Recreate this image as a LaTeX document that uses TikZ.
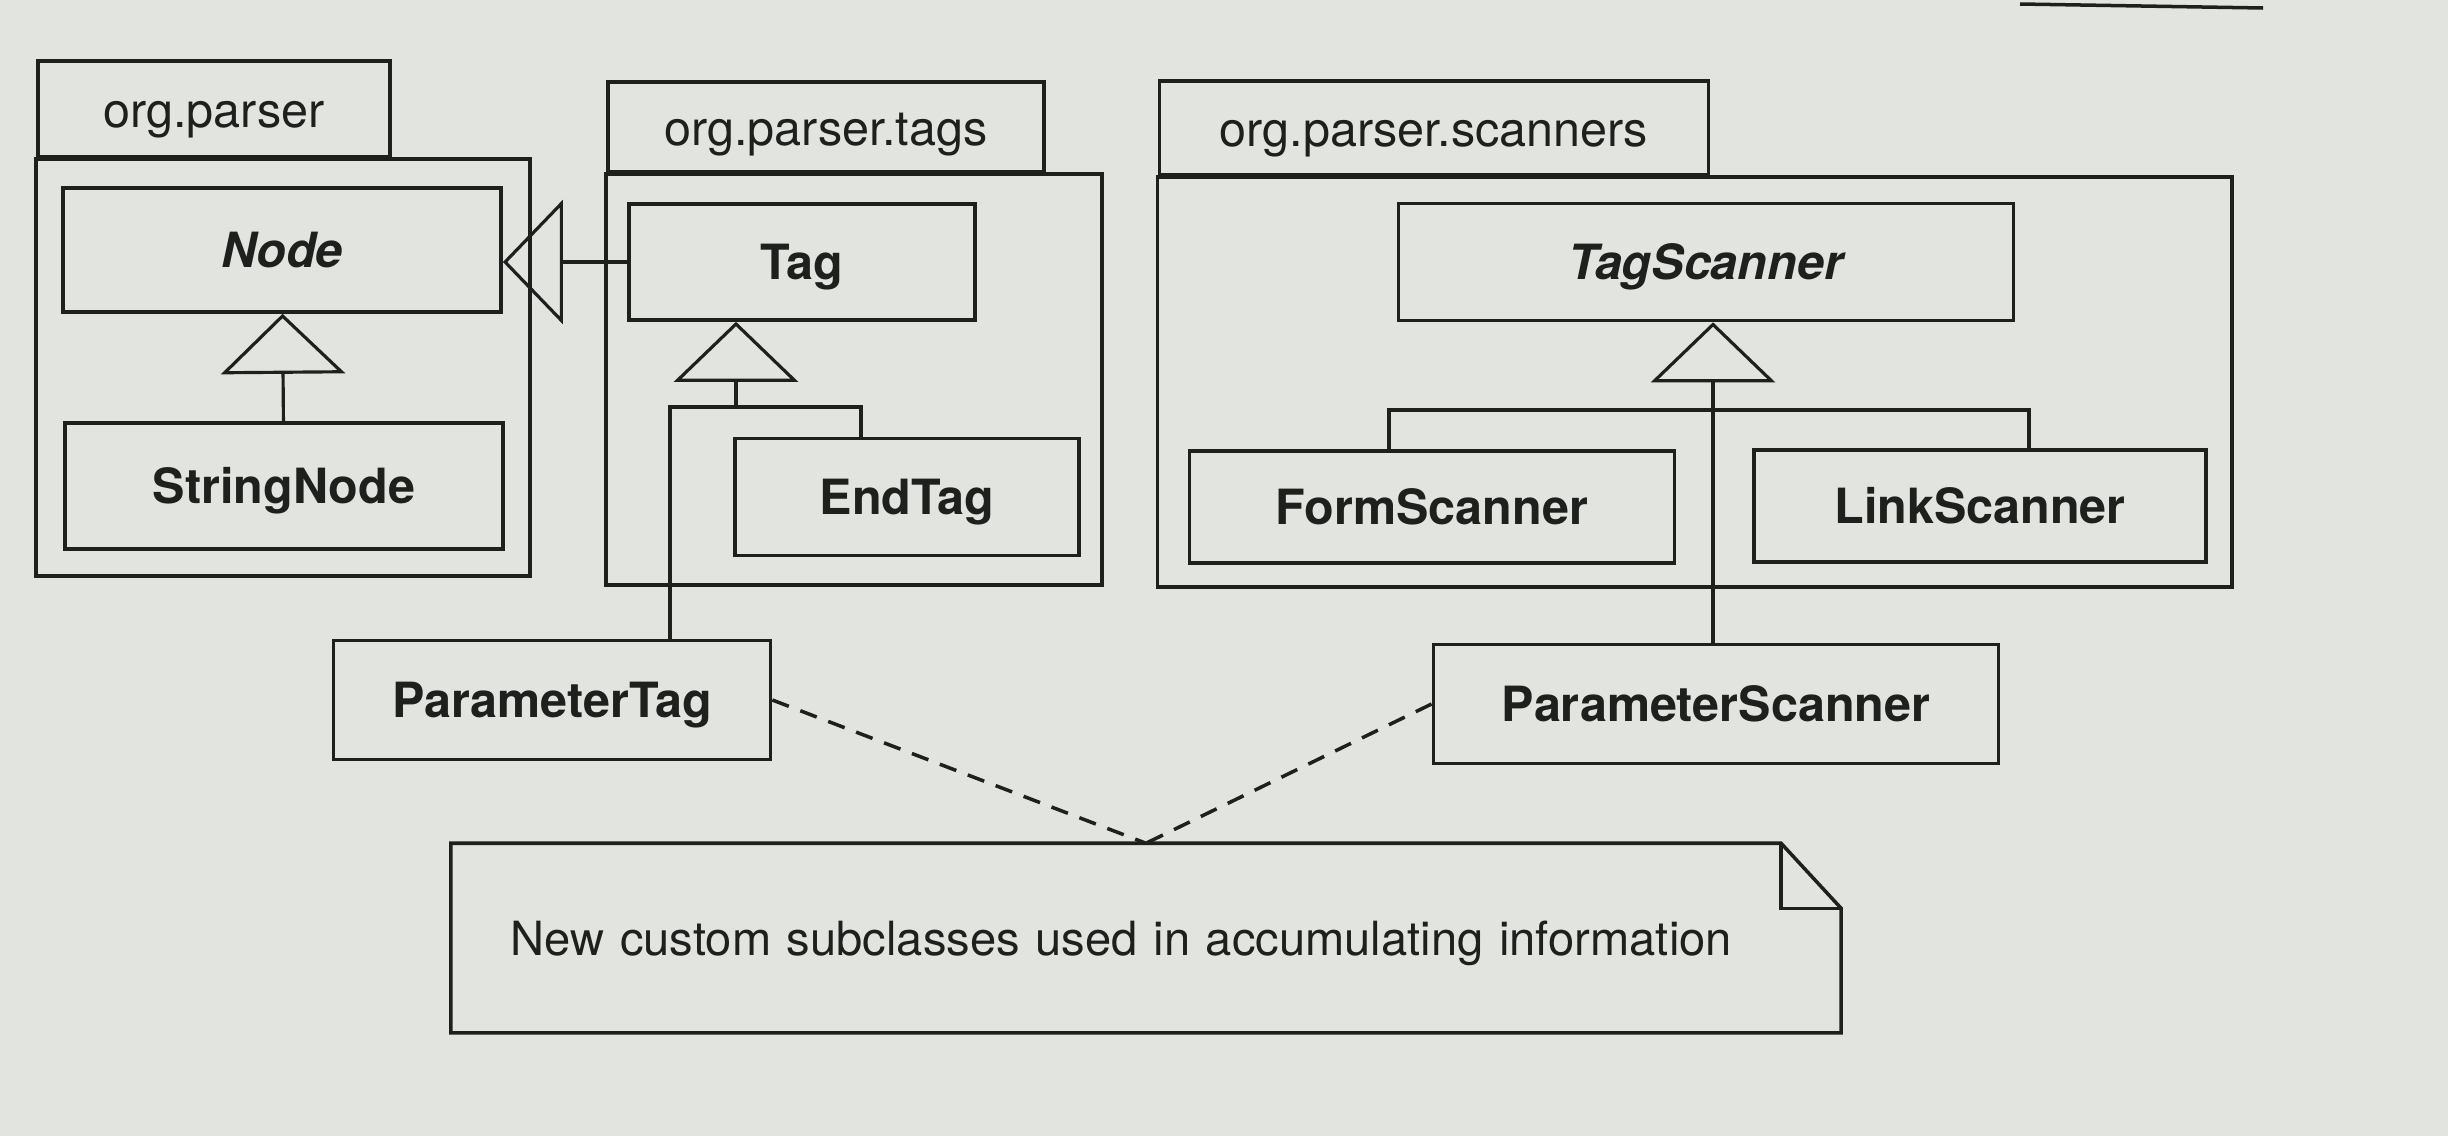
\documentclass[tikz,border=0pt]{standalone}
\usepackage{fontspec}
\setmainfont{TeX Gyre Heros}
\usetikzlibrary{arrows.meta,positioning}
\definecolor{paper}{RGB}{226,228,224}
\definecolor{ink}{RGB}{30,32,30}

\begin{document}
\begin{tikzpicture}[x=0.01cm,y=-0.01cm,
  every node/.style={font=\fontsize{13.8}{16}\selectfont,text=ink},
  cls/.style={draw=ink,line width=1pt,inner sep=0pt,text height=0.35cm,text depth=0cm,font=\fontsize{13.8}{16}\selectfont\bfseries},
  abs/.style={cls,font=\fontsize{13.8}{16}\selectfont\bfseries\itshape},
  tab/.style={draw=ink,line width=1pt,inner sep=0pt,text height=0.45cm,text depth=0.09cm},
  link/.style={draw=ink,line width=0.9pt},
  gen/.style={link,-{Triangle[open,length=6mm,width=12.4mm]}},
  dep/.style={draw=ink,line width=1pt,dash pattern=on 5pt off 3.5pt}]
\path[use as bounding box,fill=paper] (0,0) rectangle (2448,1136);
\draw[ink,line width=0.035cm] (2020,4) -- (2263,8);
\node[tab,minimum width=3.52cm,minimum height=0.96cm] (ptab) at (214,109) {org.parser};
\draw[link,line width=1pt] (ptab.south west) rectangle (530,576);
\node[tab,minimum width=4.36cm,minimum height=0.90cm] (ttab) at (826,127) {org.parser.tags};
\draw[link,line width=1pt] (ttab.south west) rectangle (1102,585);
\node[tab,minimum width=5.49cm,minimum height=0.94cm] (stab) at (1434,128) {org.parser.scanners};
\draw[link,line width=1pt] (stab.south west) rectangle (2232,587);
\node[abs,minimum width=4.38cm,minimum height=1.24cm] (nd) at (282,250) {Node};
\node[cls,minimum width=4.38cm,minimum height=1.26cm] (sn) at (284,486) {StringNode};
\node[cls,minimum width=3.46cm,minimum height=1.16cm] (tag) at (802,262) {Tag};
\node[cls,minimum width=3.44cm,minimum height=1.17cm] (etag) at (907,497) {EndTag};
\node[cls,minimum width=4.37cm,minimum height=1.19cm] (ptag) at (552,700) {ParameterTag};
\node[abs,minimum width=6.15cm,minimum height=1.17cm] (tscan) at (1706,262) {TagScanner};
\node[cls,minimum width=4.85cm,minimum height=1.12cm] (fscan) at (1432,507) {FormScanner};
\node[cls,minimum width=4.52cm,minimum height=1.12cm] (lscan) at (1980,506) {LinkScanner};
\node[cls,minimum width=5.65cm,minimum height=1.19cm] (pscan) at (1716,704) {ParameterScanner};
\node[font=\fontsize{13.4}{16}\selectfont,minimum width=13.88cm,minimum height=1.88cm,text width=12.7cm,align=left,inner xsep=0.59cm,inner ysep=0pt,text height=0.35cm,text depth=0cm] (note) at (1146,938) {New custom subclasses used in accumulating information};
\coordinate (tj) at (736,407);
\coordinate (tl) at (670,407);
\coordinate (tr) at (861,407);
\coordinate (sj) at (1713,410);
\coordinate (sl) at (1389,410);
\coordinate (sr) at (2029,410);
\draw[gen] (sn) -- (nd);
\draw[gen] (tag.west) -- (tag.west -| nd.east);
\draw[gen] (tj) -- (tag.south -| tj);
\draw[link] (ptag.north -| tl) -- (tl) -- (tr) -- (etag.north -| tr);
\draw[gen] (pscan.north -| sj) -- (tscan.south -| sj);
\draw[link] (fscan.north -| sl) -- (sl) -- (sr) -- (lscan.north -| sr);
\draw[link,line width=1pt] (note.north west) -- ([xshift=-0.6cm]note.north east) -- ([yshift=-0.65cm]note.north east) -- (note.south east) -- (note.south west) -- cycle;
\draw[link,line width=1pt] ([xshift=-0.6cm]note.north east) |- ([yshift=-0.65cm]note.north east);
\draw[dep] (ptag.east) -- (note.north);
\draw[dep] (pscan.west) -- (note.north);
\end{tikzpicture}
\end{document}
